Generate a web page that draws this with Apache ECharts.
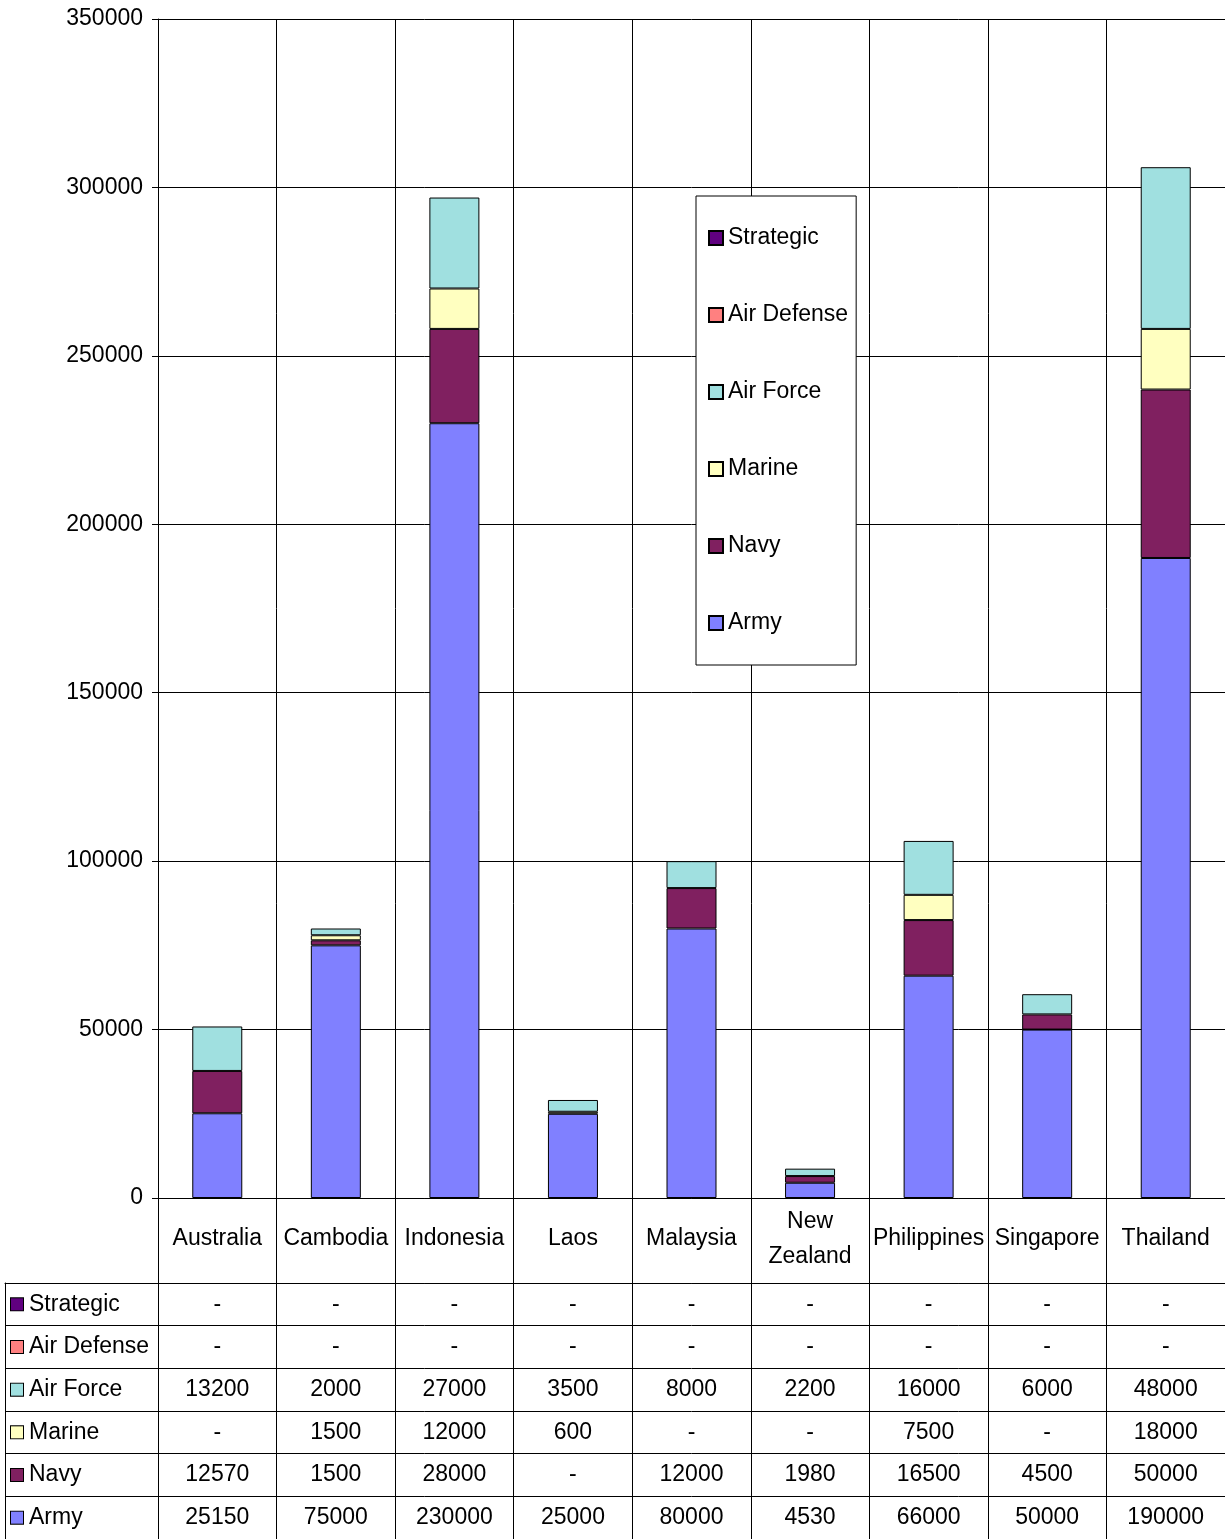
<!DOCTYPE html>
<html>
<head>
<meta charset="utf-8">
<script src="https://cdn.jsdelivr.net/npm/echarts@6/dist/echarts.min.js"></script>
<style>
  html, body { margin: 0; padding: 0; background: #fff; }
  #main { width: 1225px; height: 1539px; }
</style>
</head>
<body>
<div id="main"></div>
<script>
// data (null = "-")
let countries = ['Australia', 'Cambodia', 'Indonesia', 'Laos', 'Malaysia', 'New Zealand', 'Philippines', 'Singapore', 'Thailand'];
let army = [25150, 75000, 230000, 25000, 80000, 4530, 66000, 50000, 190000];
let navy = [12570, 1500, 28000, null, 12000, 1980, 16500, 4500, 50000];
let marine = [null, 1500, 12000, 600, null, null, 7500, null, 18000];
let airForce = [13200, 2000, 27000, 3500, 8000, 2200, 16000, 6000, 48000];
let airDefense = [null, null, null, null, null, null, null, null, null];
let strategic = [null, null, null, null, null, null, null, null, null];
let yTicks = [0, 350000, 50000]; // min, max, interval

let seriesNames = ['Army', 'Navy', 'Marine', 'Air Force', 'Air Defense', 'Strategic'];
let seriesData = [army, navy, marine, airForce, airDefense, strategic];
let colors = ['#8080ff', '#802060', '#ffffc0', '#a0e0e0', '#ff8080', '#600080'];
// table rows, top to bottom
let rowNames = ['Strategic', 'Air Defense', 'Air Force', 'Marine', 'Navy', 'Army'];

let FONT = "'Liberation Sans', Arial, sans-serif";
let FS = 23;

let myChart = echarts.init(document.getElementById('main'));

function drawChart() {
    let series = [];
    // stacked bars
    for (let i = 0; i < seriesNames.length; i++) {
        series.push({
            name: seriesNames[i],
            type: 'bar',
            stack: 'total',
            xAxisIndex: 0,
            yAxisIndex: 0,
            barWidth: 50,
            data: seriesData[i],
            itemStyle: {
                color: colors[i],
                borderColor: '#000',
                borderWidth: 1
            },
            emphasis: { disabled: true }
        });
    }

    // the data table cells
    let cells = [];
    for (let r = 0; r < rowNames.length; r++) {
        let arr = seriesData[seriesNames.indexOf(rowNames[r])];
        for (let c = 0; c < countries.length; c++) {
            cells.push([countries[c], rowNames[r], arr[c] == null ? '-' : arr[c]]);
        }
    }
    series.push({
        type: 'scatter',
        xAxisIndex: 1,
        yAxisIndex: 1,
        symbolSize: 0,
        data: cells,
        itemStyle: { opacity: 1 },
        label: {
            show: true,
            position: 'inside',
            color: '#000',
            fontFamily: FONT,
            fontSize: FS,
            formatter: function (p) { return String(p.value[2]); }
        },
        silent: true
    });

    // rich styles for the coloured squares in the row headers
    let rich = {
        t: { fontFamily: FONT, fontSize: FS, color: '#000', padding: [0, 0, 0, 6] }
    };
    seriesNames.forEach(function (n, i) {
        rich['s' + i] = {
            width: 12, height: 12,
            backgroundColor: colors[i],
            borderColor: '#000',
            borderWidth: 1
        };
    });

    let option = {
        animation: false,
        backgroundColor: '#fff',
        textStyle: { fontFamily: FONT },
        legend: {
            orient: 'vertical',
            left: 696,
            top: 196,
            data: rowNames,
            icon: 'rect',
            itemWidth: 14,
            itemHeight: 14,
            itemGap: 49,
            padding: [28, 8, 28, 12],
            backgroundColor: '#fff',
            borderColor: '#000',
            borderWidth: 1,
            borderRadius: 0,
            selectedMode: false,
            textStyle: { fontFamily: FONT, fontSize: FS, color: '#000', lineHeight: 28 }
        },
        grid: [
            { left: 158, top: 19, right: -4, height: 1179 },   // chart
            { left: 158, top: 1283, right: -4, height: 261 },  // table cells
            { left: 5, top: 1283, width: 153, height: 261 }    // row headers
        ],
        xAxis: [
            {
                gridIndex: 0,
                type: 'category',
                data: countries,
                axisLine: { lineStyle: { color: '#000', width: 1 } },
                axisTick: { show: true, length: 85, interval: 0, lineStyle: { color: '#000' } },
                splitLine: { show: true, interval: 0, lineStyle: { color: '#000', width: 1 } },
                axisLabel: {
                    interval: 0,
                    color: '#000',
                    fontFamily: FONT,
                    fontSize: FS,
                    lineHeight: 35,
                    margin: 41,
                    verticalAlign: 'middle',
                    formatter: function (v) { return v.replace(' ', '\n'); }
                }
            },
            {
                gridIndex: 1,
                type: 'category',
                data: countries,
                position: 'top',
                axisLine: { show: true, lineStyle: { color: '#000' } },
                axisTick: { show: false },
                axisLabel: { show: false },
                splitLine: { show: true, interval: 0, lineStyle: { color: '#000' } }
            },
            {
                gridIndex: 2,
                type: 'category',
                data: [''],
                position: 'top',
                axisLine: { show: true, lineStyle: { color: '#000' } },
                axisTick: { show: false },
                axisLabel: { show: false },
                splitLine: { show: false }
            }
        ],
        yAxis: [
            {
                gridIndex: 0,
                type: 'value',
                min: yTicks[0],
                max: yTicks[1],
                interval: yTicks[2],
                axisLine: { show: true, lineStyle: { color: '#000' } },
                axisTick: { show: true, length: 6, lineStyle: { color: '#000' } },
                splitLine: { show: true, lineStyle: { color: '#000', width: 1 } },
                axisLabel: {
                    color: '#000', fontFamily: FONT, fontSize: FS, margin: 15,
                    formatter: function (v) { return String(v); }
                }
            },
            {
                gridIndex: 1,
                type: 'category',
                data: rowNames,
                inverse: true,
                axisLine: { show: true, lineStyle: { color: '#000' } },
                axisTick: { show: false },
                axisLabel: { show: false },
                splitLine: { show: true, interval: 0, lineStyle: { color: '#000' } }
            },
            {
                gridIndex: 2,
                type: 'category',
                data: rowNames,
                inverse: true,
                axisLine: { show: true, lineStyle: { color: '#000' } },
                axisTick: { show: false },
                splitLine: { show: true, interval: 0, lineStyle: { color: '#000' } },
                axisLabel: {
                    inside: true,
                    interval: 0,
                    margin: 6,
                    formatter: function (v) {
                        return '{s' + seriesNames.indexOf(v) + '|}{t|' + v + '}';
                    },
                    rich: rich
                }
            }
        ],
        series: series
    };

    myChart.setOption(option);
}

drawChart();
</script>
</body>
</html>
